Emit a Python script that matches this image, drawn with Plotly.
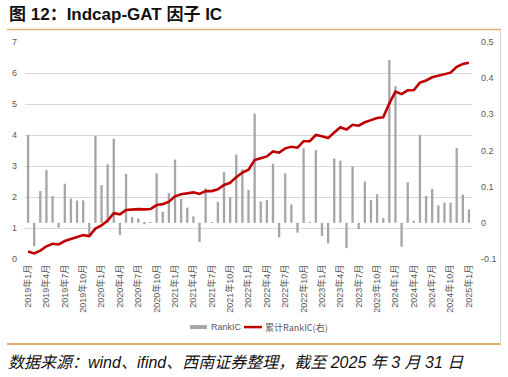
import plotly.graph_objects as go

# ---------------- data ----------------
months = [f"{y}年{m}月" for y in range(2019, 2026) for m in range(1, 13)][:73]
tick_labels = months[::3]

rank_ic = [
    0.243, -0.065, 0.088, 0.146, 0.074, -0.013, 0.108, 0.067, 0.062, 0.062,
    -0.034, 0.240, 0.104, 0.162, 0.233, -0.034, 0.136, 0.016, 0.012, -0.004,
    0.002, 0.137, 0.031, 0.082, 0.175, 0.066, 0.042, 0.018, -0.053, 0.096,
    0.001, 0.058, 0.141, 0.071, 0.189, 0.148, 0.091, 0.302, 0.059, 0.063,
    0.163, -0.040, 0.137, 0.051, -0.027, 0.206, 0.001, 0.201, -0.036, -0.057,
    0.178, 0.172, -0.070, 0.156, -0.017, 0.114, 0.063, 0.079, 0.013, 0.450,
    0.378, -0.066, 0.112, 0.006, 0.243, 0.074, 0.094, 0.048, 0.056, 0.056,
    0.207, 0.078, 0.037,
]

cum_ic = [
    0.24, 0.18, 0.27, 0.41, 0.49, 0.47, 0.58, 0.65, 0.71, 0.77,
    0.74, 0.98, 1.08, 1.24, 1.48, 1.44, 1.58, 1.60, 1.61, 1.60,
    1.61, 1.74, 1.77, 1.85, 2.02, 2.09, 2.13, 2.15, 2.10, 2.19,
    2.19, 2.25, 2.39, 2.46, 2.64, 2.79, 2.88, 3.19, 3.25, 3.31,
    3.47, 3.43, 3.57, 3.62, 3.59, 3.80, 3.80, 4.00, 3.96, 3.90,
    4.08, 4.25, 4.18, 4.33, 4.30, 4.41, 4.48, 4.55, 4.57, 5.02,
    5.40, 5.32, 5.44, 5.45, 5.69, 5.76, 5.86, 5.91, 5.96, 6.01,
    6.20, 6.29, 6.33,
]

# ---------------- geometry helpers ----------------
W, H = 508, 377
L, R, T, B = 25, 472, 42.3, 259.0


def px(xp):
    return (xp - L) / (R - L)


def py(yp):
    return (B - yp) / (B - T)


fig = go.Figure()

fig.add_trace(go.Bar(
    x=months, y=rank_ic, name="RankIC", yaxis="y",
    marker=dict(color="#A6A6A6", line=dict(width=0)), width=0.38,
    showlegend=False,
))
fig.add_trace(go.Scatter(
    x=months, y=cum_ic, name="累计RankIC(右)", yaxis="y2", mode="lines",
    line=dict(color="#C00000", width=2.6), showlegend=False,
))

tickfont = dict(family="Liberation Sans, Noto Sans CJK SC, sans-serif", size=9, color="#595959")

fig.update_layout(
    width=W, height=H,
    margin=dict(l=L, r=W - R, t=T, b=H - B),
    paper_bgcolor="white", plot_bgcolor="white",
    bargap=0.6,
    xaxis=dict(
        type="category", tickvals=tick_labels, ticktext=tick_labels,
        tickangle=-90, tickfont=tickfont, showgrid=False, zeroline=False,
        showline=False, ticks="", ticklabelstandoff=3,
    ),
    yaxis=dict(
        range=[-0.1, 0.5], tickvals=[-0.1, 0, 0.1, 0.2, 0.3, 0.4, 0.5],
        ticktext=["-0.1", "0", "0.1", "0.2", "0.3", "0.4", "0.5"],
        side="right", showgrid=False, zeroline=False, showline=False,
        tickfont=tickfont, ticks="", ticklabelstandoff=8,
    ),
    yaxis2=dict(
        range=[0, 7], dtick=1, overlaying="y", side="left",
        showgrid=True, gridcolor="#D9D9D9", gridwidth=1, zeroline=False,
        showline=False, tickfont=tickfont, ticks="", ticklabelstandoff=7,
    ),
    showlegend=False,
)

shapes = [
    # title underline / top frame
    dict(type="line", xref="paper", yref="paper", x0=px(7), x1=px(501), y0=py(29.8), y1=py(29.8),
         line=dict(color="#DDB06A", width=1.5)),
    # bottom frame
    dict(type="line", xref="paper", yref="paper", x0=px(7), x1=px(501), y0=py(344), y1=py(344),
         line=dict(color="#D4943A", width=1.5)),
    # right frame
    dict(type="line", xref="paper", yref="paper", x0=px(500.5), x1=px(500.5), y0=py(30), y1=py(344),
         line=dict(color="#D6D6D6", width=1)),
    # legend symbols
    dict(type="line", xref="paper", yref="paper", x0=px(190), x1=px(207), y0=py(327), y1=py(327),
         line=dict(color="#A6A6A6", width=4)),
    dict(type="line", xref="paper", yref="paper", x0=px(244), x1=px(262), y0=py(327), y1=py(327),
         line=dict(color="#C00000", width=2.5)),
]

annotations = [
    dict(text="<b>图 12：Indcap-GAT 因子 IC</b>", xref="paper", yref="paper",
         x=px(7), y=py(14.5), xanchor="left", yanchor="middle", showarrow=False,
         font=dict(family="Liberation Sans, Noto Sans CJK SC, sans-serif", size=17, color="#111111")),
    dict(text="RankIC", xref="paper", yref="paper", x=px(209), y=py(327),
         xanchor="left", yanchor="middle", showarrow=False,
         font=dict(family="Liberation Sans Narrow, Liberation Sans, sans-serif", size=9, color="#595959")),
    dict(text="累计RankIC(右)", xref="paper", yref="paper", x=px(263), y=py(327),
         xanchor="left", yanchor="middle", showarrow=False,
         font=dict(family="Liberation Sans Narrow, Noto Sans CJK SC, sans-serif", size=9, color="#595959")),
    dict(text="<i>数据来源：wind、ifind、西南证券整理，截至 2025 年 3 月 31 日</i>", xref="paper", yref="paper",
         x=px(6), y=py(362), xanchor="left", yanchor="middle", showarrow=False,
         font=dict(family="Liberation Sans, Noto Sans CJK SC, sans-serif", size=16, color="#111111")),
]

fig.update_layout(shapes=shapes, annotations=annotations)

fig.write_html(
    "out.html",
    config={"displayModeBar": False},
    post_script="document.body.style.margin='0px';document.body.style.padding='0px';",
)
